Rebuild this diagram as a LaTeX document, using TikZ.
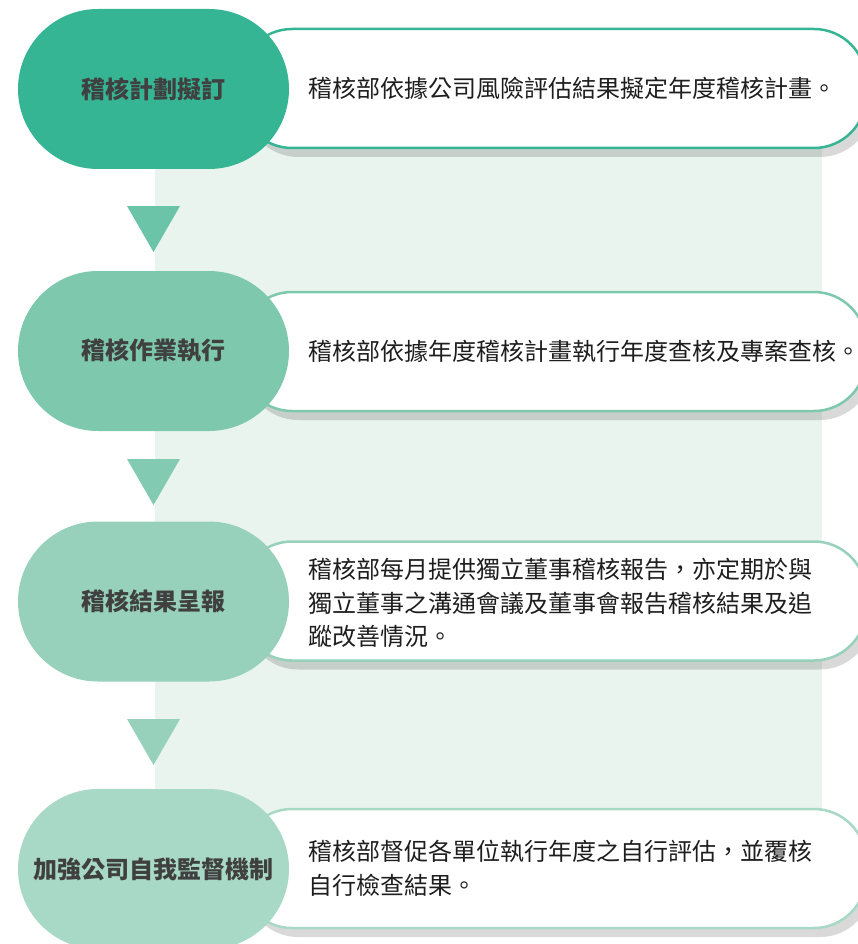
\documentclass[tikz,border=0pt]{standalone}
\usepackage{fontspec}
\setmainfont{Noto Sans CJK TC}
\usetikzlibrary{shadows}
\definecolor{bgc}{HTML}{EAF4EF}
\definecolor{ca}{HTML}{35B594}
\definecolor{cb}{HTML}{7EC8AE}
\definecolor{cc}{HTML}{97D1BB}
\definecolor{cd}{HTML}{A8D8C6}
\definecolor{ta}{HTML}{6BC3A8}
\definecolor{tb}{HTML}{83CAB2}
\definecolor{tc}{HTML}{97D1BC}
\definecolor{pilltext}{HTML}{404040}
\definecolor{boxtext}{HTML}{1E1E1E}
\tikzset{
  pill/.style={rectangle, rounded corners=80pt, minimum width=271pt, minimum height=160pt, inner sep=0pt,
    font=\fontsize{24}{28}\selectfont\bfseries, text=pilltext},
  descbox/.style={rectangle, rounded corners=52pt, minimum width=626pt, minimum height=119pt, inner sep=0pt,
    fill=white, line width=2.5pt,
    drop shadow={shadow xshift=6pt, shadow yshift=-9pt, opacity=0.15, fill=black}},
  desctext/.style={anchor=west, align=left, inner sep=0pt, text=boxtext,
    font=\fontsize{24}{33.5}\selectfont},
  tri/.style={draw=none}
}
\begin{document}
\begin{tikzpicture}[x=1pt,y=-1pt]
\useasboundingbox (0,0) rectangle (857,944);
% background panel
\fill[bgc] (155,90) rectangle (822,870);
% description boxes
\node[descbox, draw=ca] (b1) at (553,88.5) {};
\node[descbox, draw=cb] (b2) at (553,351.5) {};
\node[descbox, draw=cc] (b3) at (553,601) {};
\node[descbox, draw=cd] (b4) at (553,868.5) {};
% pills
\node[pill, fill=ca] (p1) at (153.5,89) {稽核計劃擬訂};
\node[pill, fill=cb] (p2) at (153.5,351) {稽核作業執行};
\node[pill, fill=cc] (p3) at (153.5,601.5) {稽核結果呈報};
\node[pill, fill=cd] (p4) at (153.5,869) {加強公司自我監督機制};
% triangles
\fill[ta] (127,206) -- (180,206) -- (153.5,252) -- cycle;
\fill[tb] (127,459) -- (180,459) -- (153.5,505) -- cycle;
\fill[tc] (127,719) -- (180,719) -- (153.5,765) -- cycle;
% texts
\node[desctext] (t1) at (308,88.5) {稽核部依據公司風險評估結果擬定年度稽核計畫。};
\node[desctext] (t2) at (308,351.5) {稽核部依據年度稽核計畫執行年度查核及專案查核。};
\node[desctext] (t3) at (308,603) {稽核部每月提供獨立董事稽核報告，亦定期於與\\獨立董事之溝通會議及董事會報告稽核結果及追\\蹤改善情況。};
\node[desctext] (t4) at (308,868.5) {稽核部督促各單位執行年度之自行評估，並覆核\\自行檢查結果。};
\end{tikzpicture}
\end{document}
